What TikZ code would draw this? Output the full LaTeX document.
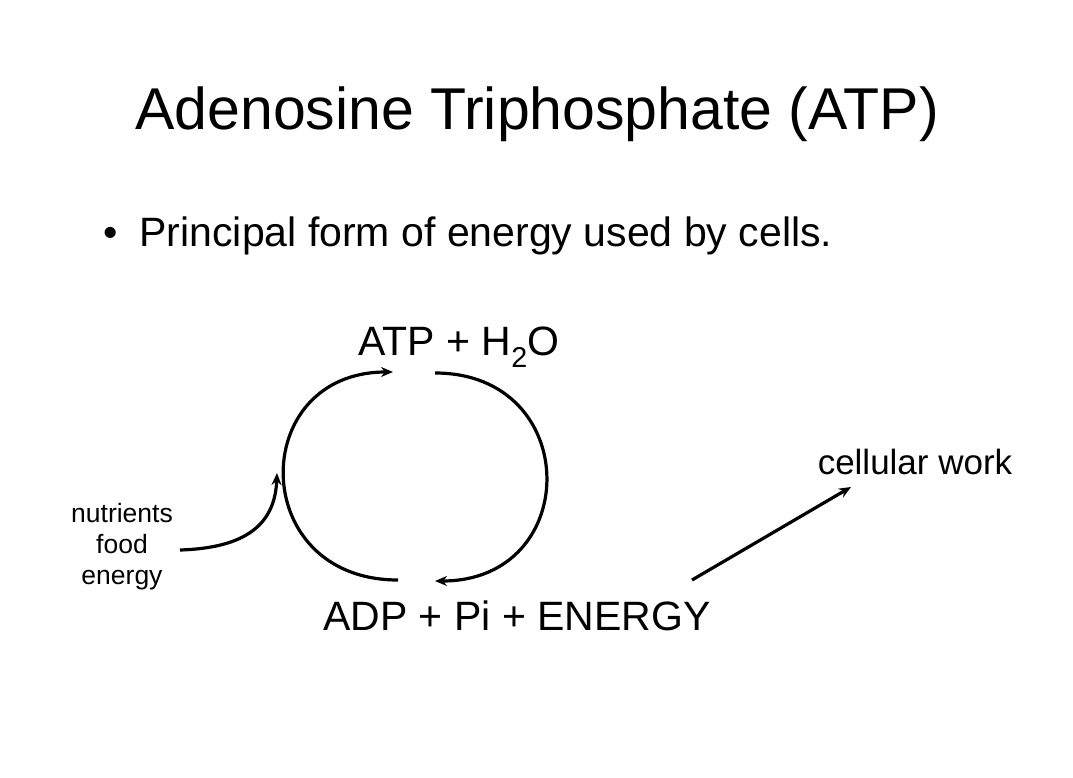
\documentclass[tikz,border=0pt]{standalone}
\usepackage{fontspec}
\setmainfont{Liberation Sans}
\usetikzlibrary{arrows.meta}
\begin{document}
\begin{tikzpicture}[x=1pt,y=-1pt,
  arr/.style={line width=3.2pt,-{Stealth[length=12pt,width=10pt]}},
  lbl/.style={inner sep=0pt,anchor=center}]
\useasboundingbox (0,0) rectangle (1073,778);
\fill[white] (0,0) rectangle (1073,778);
\node[lbl] (title) at (537,114) {\fontsize{59}{70}\selectfont Adenosine Triphosphate (ATP)};
\node[lbl,anchor=west] (bullet) at (103,236) {\fontsize{41}{48}\selectfont •\hspace{22pt}Principal form of energy used by cells.};
\node[lbl] (atp) at (459,347) {\fontsize{41}{48}\selectfont ATP + H\textsubscript{2}O};
\node[lbl] (adp) at (517,616) {\fontsize{41}{48}\selectfont ADP + Pi + ENERGY};
\node[lbl,align=center,font=\fontsize{26.5}{31}\selectfont] (nut) at (122,547) {nutrients\\food\\energy};
\node[lbl] (work) at (915,462) {\fontsize{35}{42}\selectfont cellular work};
\coordinate (l1) at (398,580); \coordinate (l2) at (393,372);
\coordinate (r1) at (435,373); \coordinate (r2) at (435,581);
\coordinate (n1) at (180,550); \coordinate (n2) at (277,473);
\coordinate (w1) at (692,580); \coordinate (w2) at (851,487);
\draw[arr] (l1) .. controls (247,580) and (247,372) .. (l2);
\draw[arr] (r1) .. controls (583,373) and (583,581) .. (r2);
\draw[arr] (n1) .. controls (245,548) and (275,525) .. (n2);
\draw[arr] (w1) -- (w2);
\end{tikzpicture}
\end{document}
